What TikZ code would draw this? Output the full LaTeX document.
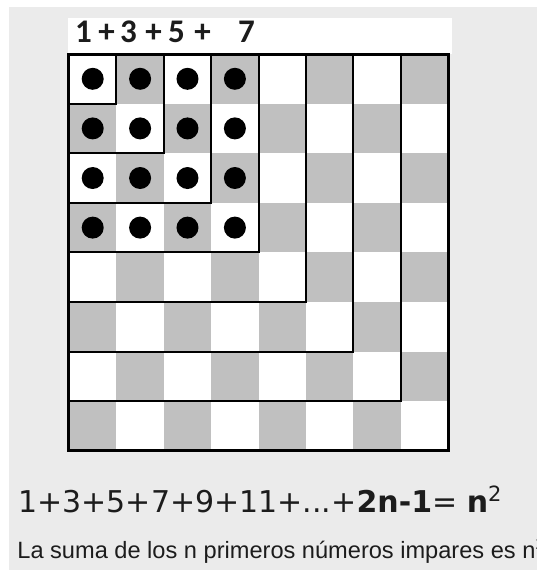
\documentclass[tikz,border=0pt]{standalone}
\usepackage{fontspec}
\setmainfont{DejaVu Sans}
\newfontfamily\labelfont{Carlito}
\newfontfamily\captionfont{Liberation Sans}
\definecolor{bggray}{HTML}{EBEBEB}
\definecolor{cellgray}{HTML}{C0C0C0}
\definecolor{inkgray}{HTML}{1C1C1C}

\begin{document}
\begin{tikzpicture}[x=0.5pt,y=-0.5pt,
  toplabel/.style={anchor=base,inner sep=0pt,font=\labelfont\bfseries\fontsize{16.5}{19}\selectfont,text=inkgray},
  gnomon/.style={line width=1pt,line cap=rect}]
\useasboundingbox (0,0) rectangle (537,570);
\fill[white] (0,0) rectangle (537,570);
\fill[bggray] (9,7) rectangle (537,570);
\fill[white] (68,18) rectangle (452,54);
\foreach \x/\t [count=\n] in {83.5/1,106.5/+,128.5/3,153.5/+,176.5/5,202.5/+,246.5/7}
  \node[toplabel] (top\n) at (\x,42) {\t};
\begin{scope}[shift={(69,54)},x=23.7pt,y=-24.8pt]
\fill[white] (0,0) rectangle (8,8);
\foreach \i in {0,...,7}
  \foreach \j in {0,...,7}{
    \pgfmathtruncatemacro\odd{mod(\i+\j,2)}
    \ifnum\odd=1 \fill[cellgray] (\i,\j) rectangle ++(1,1); \fi
  }
\foreach \k in {1,...,7}
  \draw[gnomon] (\k,0) -- (\k,\k) -- (0,\k);
\foreach \i in {0,...,3}
  \foreach \j in {0,...,3}
    \fill (\i+0.5,\j+0.5) circle[radius=5.5pt];
\draw[line width=1.5pt] (0,0) rectangle (8,8);
\end{scope}
\node[anchor=base west,inner sep=0pt,text=inkgray,font=\fontsize{15}{18}\selectfont] (formula) at (18,512)
  {1+3+5+7+9+11+...+\textbf{2n-1}= \textbf{n}\textsuperscript{2}};
\node[anchor=base west,inner sep=0pt,text=inkgray,font=\captionfont\fontsize{11.8}{14}\selectfont] (caption) at (17,558)
  {La suma de los n primeros números impares es n\textsuperscript{2}};
\end{tikzpicture}
\end{document}
